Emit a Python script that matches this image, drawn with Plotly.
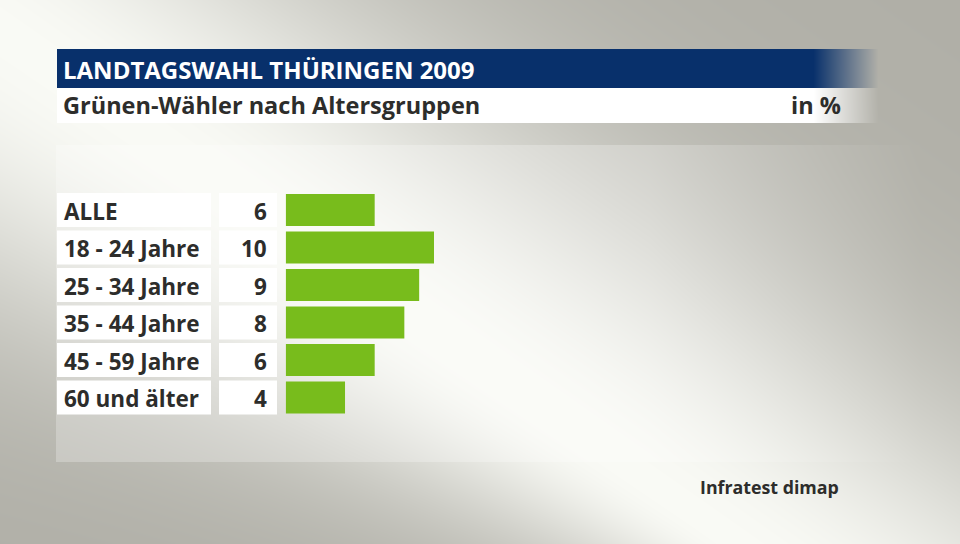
import base64, struct, zlib
import numpy as np
import plotly.graph_objects as go

# ---------------- data ----------------
categories = ["ALLE", "18 - 24 Jahre", "25 - 34 Jahre", "35 - 44 Jahre", "45 - 59 Jahre", "60 und älter"]
values = [6, 10, 9, 8, 6, 4]
title = "LANDTAGSWAHL THÜRINGEN 2009"
subtitle = "Grünen-Wähler nach Altersgruppen"
unit = "in %"
source = "Infratest dimap"

W, H = 960, 544
FONT = "Open Sans"
DARK = "#2d2d2b"
GREEN = "#78bc1c"
NAVY = (8, 48, 107)


# ---------------- decorative background (no data) ----------------
def make_background():
    yy, xx = np.mgrid[0:H, 0:W].astype(float)
    rx, ry = xx, yy - 30.0
    ux, uy = 0.818, 0.575
    along = rx * ux + ry * uy
    perp = -rx * uy + ry * ux
    s_below = np.clip(270 - 0.2 * along, 100, 280)
    s = np.where(perp < 0, 235.0, s_below)
    t = np.exp(-(perp / s) ** 2)
    gray = np.array([176, 175, 167], float)
    light = np.array([249, 250, 245], float)
    img = gray + t[..., None] * (light - gray)
    # lighter chart panel
    alpha = 0.25 * np.clip((920 - xx) / (920 - 650), 0, 1)
    m = (xx >= 56) & (yy >= 145) & (yy < 462)
    a = np.where(m, alpha, 0)[..., None]
    img = img * (1 - a) + 255 * a
    # title + subtitle bars with fade on the right
    fade = np.clip((878 - xx) / (878 - 813), 0, 1)
    m = (yy >= 49) & (yy < 88) & (xx >= 57)
    a = np.where(m, fade, 0)[..., None]
    img = img * (1 - a) + np.array(NAVY, float) * a
    m = (yy >= 88) & (yy < 123) & (xx >= 57)
    a = np.where(m, fade, 0)[..., None]
    img = img * (1 - a) + 255 * a
    arr = np.clip(np.round(img), 0, 255).astype(np.uint8)
    flat = arr.reshape(H, W * 3).astype(np.int16)
    sub = flat.copy()
    sub[:, 3:] = (flat[:, 3:] - flat[:, :-3]) % 256
    raw = np.hstack([np.ones((H, 1), np.uint8), sub.astype(np.uint8)]).tobytes()

    def chunk(tag, d):
        return struct.pack(">I", len(d)) + tag + d + struct.pack(">I", zlib.crc32(tag + d) & 0xFFFFFFFF)

    png = (b"\x89PNG\r\n\x1a\n"
           + chunk(b"IHDR", struct.pack(">IIBBBBB", W, H, 8, 2, 0, 0, 0))
           + chunk(b"IDAT", zlib.compress(raw, 9))
           + chunk(b"IEND", b""))
    return "data:image/png;base64," + base64.b64encode(png).decode()


# ---------------- geometry ----------------
bar_x0 = 285.7
px_per_unit = 14.83
row_top, row_bottom = 191.25, 416.25

fig = go.Figure()
fig.add_trace(go.Bar(
    x=values, y=categories, orientation="h",
    marker=dict(color=GREEN, line=dict(width=0)),
    width=0.853, hoverinfo="skip",
))

shapes = []
annotations = []
half = 34 / 37.5 / 2
lab_font = dict(family=FONT, size=22.5, color=DARK, weight="bold")
for i, (cat, val) in enumerate(zip(categories, values)):
    for x0, x1 in [(57, 211), (219, 277)]:
        shapes.append(dict(type="rect", xref="paper", yref="y",
                           x0=x0 / W, x1=x1 / W, y0=i - half, y1=i + half,
                           fillcolor="white", line=dict(width=0), layer="below"))
    annotations.append(dict(xref="paper", yref="y", x=62 / W, y=i + 0.03, text=cat,
                            xanchor="left", yanchor="middle", showarrow=False,
                            font=lab_font))
    annotations.append(dict(xref="paper", yref="y", x=269 / W, y=i + 0.03, text=str(val),
                            xanchor="right", yanchor="middle", showarrow=False,
                            font=lab_font))

annotations += [
    dict(xref="paper", yref="paper", x=61 / W, y=1 - 69 / H, text=title,
         xanchor="left", yanchor="middle", showarrow=False,
         font=dict(family=FONT, size=24, color="white", weight="bold")),
    dict(xref="paper", yref="paper", x=61 / W, y=1 - 105 / H, text=subtitle,
         xanchor="left", yanchor="middle", showarrow=False,
         font=dict(family=FONT, size=23.5, color=DARK, weight="bold")),
    dict(xref="paper", yref="paper", x=843 / W, y=1 - 105 / H, text=unit,
         xanchor="right", yanchor="middle", showarrow=False,
         font=dict(family=FONT, size=23.5, color=DARK, weight="bold")),
    dict(xref="paper", yref="paper", x=841 / W, y=1 - 487 / H, text=source,
         xanchor="right", yanchor="middle", showarrow=False,
         font=dict(family=FONT, size=17.8, color=DARK, weight="bold")),
]

fig.update_layout(
    width=W, height=H,
    margin=dict(l=0, r=0, t=0, b=0),
    paper_bgcolor="#b0afa7", plot_bgcolor="rgba(0,0,0,0)",
    showlegend=False,
    xaxis=dict(domain=[bar_x0 / W, 1], range=[0, (W - bar_x0) / px_per_unit],
               visible=False, fixedrange=True),
    yaxis=dict(domain=[1 - row_bottom / H, 1 - row_top / H], range=[5.5, -0.5],
               type="category", categoryorder="array", categoryarray=categories,
               visible=False, fixedrange=True),
    shapes=shapes,
    annotations=annotations,
    images=[dict(source=make_background(), xref="paper", yref="paper",
                 x=0, y=1, sizex=1, sizey=1, xanchor="left", yanchor="top",
                 sizing="stretch", layer="below")],
)

fig.write_html("out.html", config={"displayModeBar": False})
